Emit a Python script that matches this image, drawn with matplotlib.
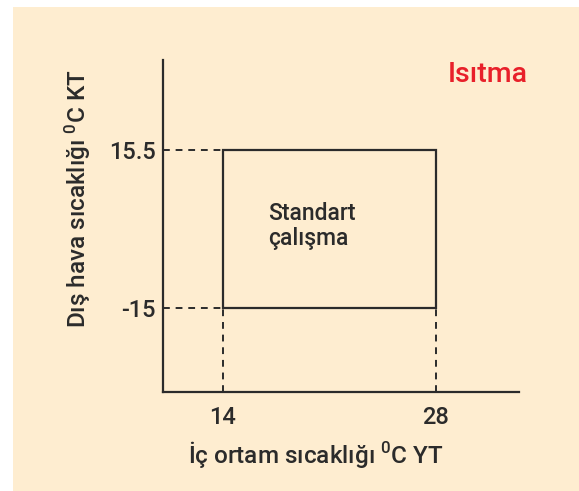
import matplotlib.pyplot as plt
from matplotlib.patches import Rectangle

# Veriler
x_ticks = [14, 28]
y_ticks = [-15, 15.5]
x_tick_labels = ['14', '28']
y_tick_labels = ['-15', '15.5']
box_x = [14, 28]      # iç ortam sıcaklığı aralığı
box_y = [-15, 15.5]   # dış hava sıcaklığı aralığı
x_label = 'İç ortam sıcaklığı $^{0}$C YT'
y_label = 'Dış hava sıcaklığı $^{0}$C KT'
mode_label = 'Isıtma'
region_label = 'Standart\nçalışma'

plt.rcParams['font.family'] = ['Roboto', 'DejaVu Sans']
plt.rcParams['font.weight'] = 'medium'
plt.rcParams['mathtext.fontset'] = 'custom'
plt.rcParams['mathtext.rm'] = 'Roboto:medium'
plt.rcParams['mathtext.it'] = 'Roboto:medium'

ink = '#2b2b2b'
bg = '#feedd0'

fig = plt.figure(figsize=(5.79, 4.91), dpi=100, facecolor='white')
fig.patches.append(Rectangle((13 / 579, 0), 1, (491 - 7) / 491,
                             transform=fig.transFigure, facecolor=bg,
                             edgecolor='none', zorder=-10))

ax = fig.add_axes([163 / 579, 99 / 491, 356 / 579, 332 / 491])
ax.set_facecolor('none')
ax.set_xlim(10.06, 33.46)
ax.set_ylim(-31.2, 32.9)

for s in ['top', 'right']:
    ax.spines[s].set_visible(False)
for s in ['left', 'bottom']:
    ax.spines[s].set_color(ink)
    ax.spines[s].set_linewidth(1.6)

# Standart çalışma kutusu
ax.add_patch(Rectangle((box_x[0], box_y[0]), box_x[1] - box_x[0], box_y[1] - box_y[0],
                       fill=False, edgecolor=ink, linewidth=1.6))

x0, _ = ax.get_xlim()
y0, _ = ax.get_ylim()
dash = dict(color=ink, linewidth=1.4, linestyle=(0, (3.5, 3)))
for yv in box_y:
    ax.plot([x0, box_x[0]], [yv, yv], **dash)
for xv in box_x:
    ax.plot([xv, xv], [y0, box_y[0]], **dash)

ax.set_xticks(x_ticks)
ax.set_xticklabels(x_tick_labels)
ax.set_yticks(y_ticks)
ax.set_yticklabels(y_tick_labels)
ax.tick_params(axis='x', length=0, labelsize=17, colors=ink, pad=10)
ax.tick_params(axis='y', length=0, labelsize=17, colors=ink, pad=5)

ax.text(box_x[0] + 3, 5.4, region_label,
        fontsize=16.5, color=ink, ha='left', va='top', linespacing=1.1)
ax.text(1.025, 0.955, mode_label, transform=ax.transAxes, fontsize=20.5,
        color='#e8202a', ha='right', va='center')

fig.text(316 / 579, 1 - 454 / 491, x_label, fontsize=17.5, color=ink,
         ha='center', va='center')
fig.text(78 / 579, 1 - 199 / 491, y_label, fontsize=17.5, color=ink,
         ha='center', va='center', rotation=90)

fig.savefig('out.png', dpi=100, facecolor='white')
